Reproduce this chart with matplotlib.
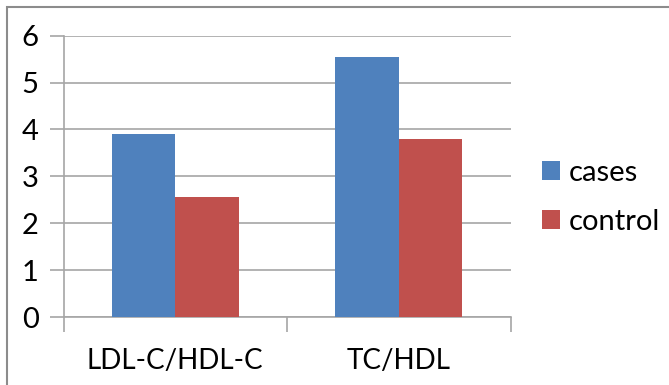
import matplotlib.pyplot as plt
from matplotlib.patches import Rectangle
import numpy as np

categories = ["LDL-C/HDL-C", "TC/HDL"]
cases = [3.9, 5.55]
control = [2.55, 3.8]
series_names = ["cases", "control"]

plt.rcParams['font.family'] = ['Lato', 'DejaVu Sans']

W, H = 669, 385
fig = plt.figure(figsize=(W / 100, H / 100), dpi=100)
# axes box in pixels: left 63.5, right 510.5, top 35.7, bottom 317
ax = fig.add_axes([63.5 / W, 1 - 317 / H, (510.5 - 63.5) / W, (317 - 35.7) / H])

x = np.arange(len(categories))
bw = 0.283
ax.bar(x - bw / 2, cases, bw, color="#4F81BD", label=series_names[0], zorder=3)
ax.bar(x + bw / 2, control, bw, color="#C0504D", label=series_names[1], zorder=3)

ax.set_xlim(-0.5, len(categories) - 0.5)
ax.set_ylim(0, 6)
ax.set_yticks(range(0, 7))
ax.yaxis.grid(True, color="#A6A6A6", linewidth=1.2, zorder=0)
ax.set_xticks(x)
ax.set_xticklabels(categories, fontsize=20)
ax.set_xticks(np.arange(-0.5, len(categories), 1), minor=True)
ax.tick_params(axis="x", which="major", length=0, pad=22)
ax.tick_params(axis="x", which="minor", length=11, color="#A6A6A6", width=1.2)
ax.tick_params(axis="y", length=10, color="#A6A6A6", width=1.2, labelsize=21, pad=8)

for s in ["top", "right"]:
    ax.spines[s].set_visible(False)
for s in ["left", "bottom"]:
    ax.spines[s].set_color("#A6A6A6")
    ax.spines[s].set_linewidth(1.2)

leg = ax.legend(loc="center left", bbox_to_anchor=(542 / W, 1 - 197.5 / H),
                bbox_transform=fig.transFigure, frameon=False,
                borderpad=0, borderaxespad=0,
                fontsize=21, handlelength=0.62, handleheight=0.62,
                handletextpad=0.3, labelspacing=0.8)

# outer chart frame (left and top visible)
fig.patches.append(Rectangle((7 / W, -0.1), 1.2, 1 - 7 / H + 0.1,
                             transform=fig.transFigure, fill=False,
                             edgecolor="#8C8C8C", linewidth=1.5))

fig.savefig("out.png", dpi=100)
